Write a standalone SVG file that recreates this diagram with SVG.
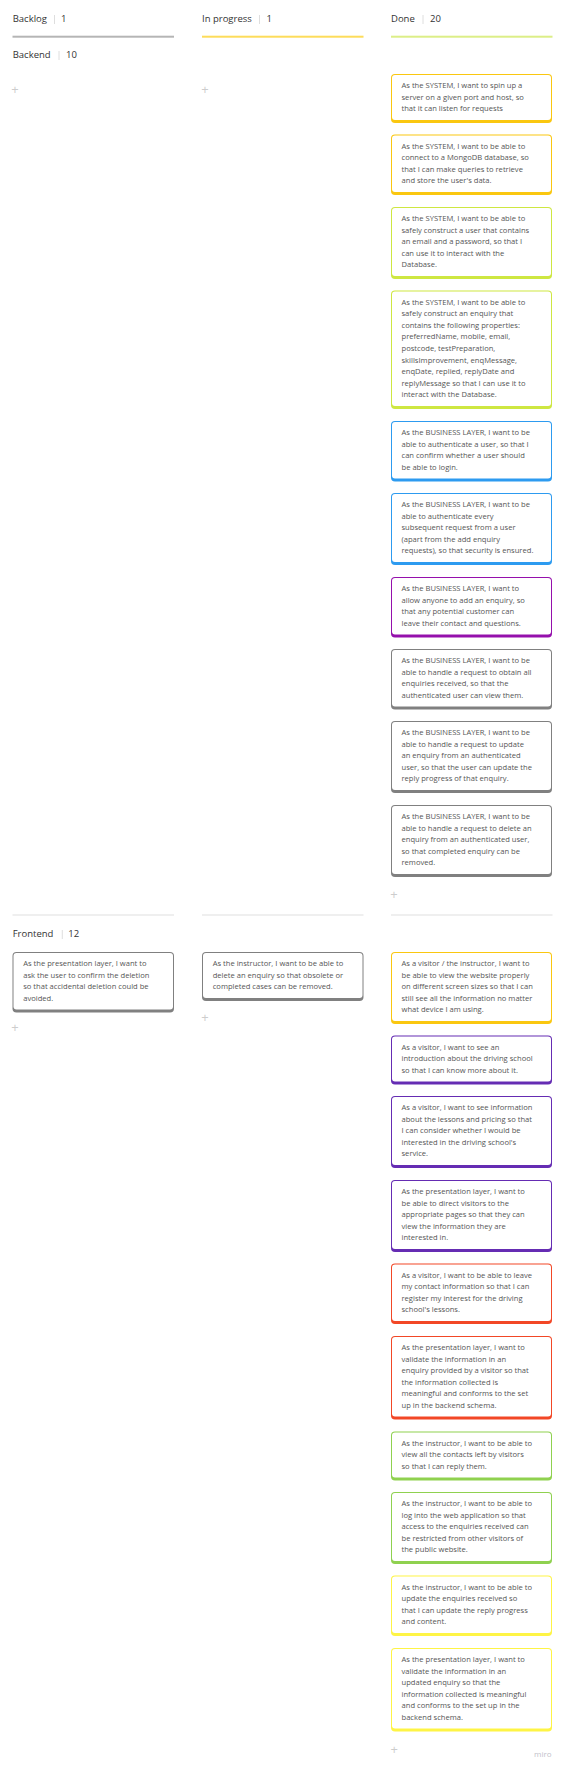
<svg xmlns="http://www.w3.org/2000/svg" width="565" height="1769" viewBox="0 0 565 1769">
<style>
.h{font-family:"Open Sans","DejaVu Sans",sans-serif;font-size:9.5px;fill:#333}
.t{font-family:"Open Sans","DejaVu Sans",sans-serif;font-size:7.6px;fill:#555}
.plus{font-family:"Open Sans","DejaVu Sans",sans-serif;font-size:13px;fill:#cdcdcd;text-anchor:middle}
.bar{stroke:#d6d6d6;stroke-width:0.8}
.inner{fill:#fff}
.miro{font-family:"Open Sans","DejaVu Sans",sans-serif;font-size:8px;fill:#c2bfca;text-anchor:end}
</style>
<rect width="565" height="1769" fill="#fff"/>
<g id="headers">
 <text class="h" x="12.7" y="22.4">Backlog</text><line class="bar" x1="54.5" y1="15" x2="54.5" y2="24"/><text class="h" x="61" y="22.4">1</text>
 <rect x="12.5" y="35.7" width="161.5" height="2" fill="#b5b5b5"/>
 <text class="h" x="202" y="22.4">In progress</text><line class="bar" x1="259.5" y1="15" x2="259.5" y2="24"/><text class="h" x="266.5" y="22.4">1</text>
 <rect x="202" y="35.7" width="161.5" height="2" fill="#fddc5a"/>
 <text class="h" x="391" y="22.4">Done</text><line class="bar" x1="423" y1="15" x2="423" y2="24"/><text class="h" x="430" y="22.4">20</text>
 <rect x="391" y="35.7" width="161.5" height="2" fill="#dcee87"/>
</g>
<g id="swimlanes">
 <text class="h" x="12.7" y="58.4">Backend</text><line class="bar" x1="59" y1="51" x2="59" y2="60"/><text class="h" x="66" y="58.4">10</text>
 <rect x="12.5" y="914" width="161.5" height="2" fill="#efefef"/>
 <rect x="202" y="914" width="161.5" height="2" fill="#efefef"/>
 <rect x="391" y="914" width="161.5" height="2" fill="#efefef"/>
 <text class="h" x="12.7" y="937.4">Frontend</text><line class="bar" x1="62.3" y1="930" x2="62.3" y2="939"/><text class="h" x="68.3" y="937.4">12</text>
</g>
<g id="add-buttons">
 <text class="plus" x="15" y="93.8">+</text>
 <text class="plus" x="205" y="93.8">+</text>
 <text class="plus" x="394" y="898.8">+</text>
 <text class="plus" x="15" y="1032.2">+</text>
 <text class="plus" x="205" y="1021.8">+</text>
 <text class="plus" x="394.3" y="1753.5">+</text>
</g>
<g id="connectors"></g>

<g id="card-b1"><rect x="391" y="74" width="161" height="49" rx="4" fill="#fac710"/><rect class="inner" x="392" y="75" width="159" height="45" rx="3"/>
<text class="t" y="88"><tspan x="401.5">As the SYSTEM, I want to spin up a</tspan><tspan x="401.5" dy="11.6">server on a given port and host, so</tspan><tspan x="401.5" dy="11.6">that it can listen for requests</tspan></text></g>

<g id="card-b2"><rect x="391" y="134.5" width="161" height="60.5" rx="4" fill="#fac710"/><rect class="inner" x="392" y="135.5" width="159" height="56.5" rx="3"/>
<text class="t" y="148.5"><tspan x="401.5">As the SYSTEM, I want to be able to</tspan><tspan x="401.5" dy="11.6">connect to a MongoDB database, so</tspan><tspan x="401.5" dy="11.6">that I can make queries to retrieve</tspan><tspan x="401.5" dy="11.6">and store the user's data.</tspan></text></g>

<g id="card-b3"><rect x="391" y="207" width="161" height="72" rx="4" fill="#cee741"/><rect class="inner" x="392" y="208" width="159" height="68" rx="3"/>
<text class="t" y="221"><tspan x="401.5">As the SYSTEM, I want to be able to</tspan><tspan x="401.5" dy="11.6">safely construct a user that contains</tspan><tspan x="401.5" dy="11.6">an email and a password, so that I</tspan><tspan x="401.5" dy="11.6">can use it to interact with the</tspan><tspan x="401.5" dy="11.6">Database.</tspan></text></g>

<g id="card-b4"><rect x="391" y="290.5" width="161" height="118.5" rx="4" fill="#cee741"/><rect class="inner" x="392" y="291.5" width="159" height="114.5" rx="3"/>
<text class="t" y="304.5"><tspan x="401.5">As the SYSTEM, I want to be able to</tspan><tspan x="401.5" dy="11.6">safely construct an enquiry that</tspan><tspan x="401.5" dy="11.6">contains the following properties:</tspan><tspan x="401.5" dy="11.6">preferredName, mobile, email,</tspan><tspan x="401.5" dy="11.6">postcode, testPreparation,</tspan><tspan x="401.5" dy="11.6">skillsImprovement, enqMessage,</tspan><tspan x="401.5" dy="11.6">enqDate, replied, replyDate and</tspan><tspan x="401.5" dy="11.6">replyMessage so that I can use it to</tspan><tspan x="401.5" dy="11.6">interact with the Database.</tspan></text></g>

<g id="card-b5"><rect x="391" y="421" width="161" height="60.5" rx="4" fill="#2d9bf0"/><rect class="inner" x="392" y="422" width="159" height="56.5" rx="3"/>
<text class="t" y="435"><tspan x="401.5">As the BUSINESS LAYER, I want to be</tspan><tspan x="401.5" dy="11.6">able to authenticate a user, so that I</tspan><tspan x="401.5" dy="11.6">can confirm whether a user should</tspan><tspan x="401.5" dy="11.6">be able to login.</tspan></text></g>

<g id="card-b6"><rect x="391" y="493" width="161" height="72" rx="4" fill="#2d9bf0"/><rect class="inner" x="392" y="494" width="159" height="68" rx="3"/>
<text class="t" y="507"><tspan x="401.5">As the BUSINESS LAYER, I want to be</tspan><tspan x="401.5" dy="11.6">able to authenticate every</tspan><tspan x="401.5" dy="11.6">subsequent request from a user</tspan><tspan x="401.5" dy="11.6">(apart from the add enquiry</tspan><tspan x="401.5" dy="11.6">requests), so that security is ensured.</tspan></text></g>

<g id="card-b7"><rect x="391" y="577" width="161" height="60.5" rx="4" fill="#9510ac"/><rect class="inner" x="392" y="578" width="159" height="56.5" rx="3"/>
<text class="t" y="591"><tspan x="401.5">As the BUSINESS LAYER, I want to</tspan><tspan x="401.5" dy="11.6">allow anyone to add an enquiry, so</tspan><tspan x="401.5" dy="11.6">that any potential customer can</tspan><tspan x="401.5" dy="11.6">leave their contact and questions.</tspan></text></g>

<g id="card-b8"><rect x="391" y="649" width="161" height="60.5" rx="4" fill="#808080"/><rect class="inner" x="392" y="650" width="159" height="56.5" rx="3"/>
<text class="t" y="663"><tspan x="401.5">As the BUSINESS LAYER, I want to be</tspan><tspan x="401.5" dy="11.6">able to handle a request to obtain all</tspan><tspan x="401.5" dy="11.6">enquiries received, so that the</tspan><tspan x="401.5" dy="11.6">authenticated user can view them.</tspan></text></g>

<g id="card-b9"><rect x="391" y="721" width="161" height="72" rx="4" fill="#808080"/><rect class="inner" x="392" y="722" width="159" height="68" rx="3"/>
<text class="t" y="735"><tspan x="401.5">As the BUSINESS LAYER, I want to be</tspan><tspan x="401.5" dy="11.6">able to handle a request to update</tspan><tspan x="401.5" dy="11.6">an enquiry from an authenticated</tspan><tspan x="401.5" dy="11.6">user, so that the user can update the</tspan><tspan x="401.5" dy="11.6">reply progress of that enquiry.</tspan></text></g>

<g id="card-b10"><rect x="391" y="805" width="161" height="72" rx="4" fill="#808080"/><rect class="inner" x="392" y="806" width="159" height="68" rx="3"/>
<text class="t" y="819"><tspan x="401.5">As the BUSINESS LAYER, I want to be</tspan><tspan x="401.5" dy="11.6">able to handle a request to delete an</tspan><tspan x="401.5" dy="11.6">enquiry from an authenticated user,</tspan><tspan x="401.5" dy="11.6">so that completed enquiry can be</tspan><tspan x="401.5" dy="11.6">removed.</tspan></text></g>

<g id="card-fb1"><rect x="12.5" y="952" width="161.5" height="60.5" rx="4" fill="#808080"/><rect class="inner" x="13.5" y="953" width="159.5" height="56.5" rx="3"/>
<text class="t" y="966"><tspan x="23.2">As the presentation layer, I want to</tspan><tspan x="23.2" dy="11.6">ask the user to confirm the deletion</tspan><tspan x="23.2" dy="11.6">so that accidental deletion could be</tspan><tspan x="23.2" dy="11.6">avoided.</tspan></text></g>

<g id="card-fp1"><rect x="202" y="952" width="161.5" height="49" rx="4" fill="#808080"/><rect class="inner" x="203" y="953" width="159.5" height="45" rx="3"/>
<text class="t" y="966"><tspan x="212.7">As the instructor, I want to be able to</tspan><tspan x="212.7" dy="11.6">delete an enquiry so that obsolete or</tspan><tspan x="212.7" dy="11.6">completed cases can be removed.</tspan></text></g>

<g id="card-f1"><rect x="391" y="952" width="161" height="72" rx="4" fill="#fac710"/><rect class="inner" x="392" y="953" width="159" height="68" rx="3"/>
<text class="t" y="966"><tspan x="401.5">As a visitor / the instructor, I want to</tspan><tspan x="401.5" dy="11.6">be able to view the website properly</tspan><tspan x="401.5" dy="11.6">on different screen sizes so that I can</tspan><tspan x="401.5" dy="11.6">still see all the information no matter</tspan><tspan x="401.5" dy="11.6">what device I am using.</tspan></text></g>

<g id="card-f2"><rect x="391" y="1035.5" width="161" height="49" rx="4" fill="#652cb3"/><rect class="inner" x="392" y="1036.5" width="159" height="45" rx="3"/>
<text class="t" y="1049.5"><tspan x="401.5">As a visitor, I want to see an</tspan><tspan x="401.5" dy="11.6">introduction about the driving school</tspan><tspan x="401.5" dy="11.6">so that I can know more about it.</tspan></text></g>

<g id="card-f3"><rect x="391" y="1096" width="161" height="72" rx="4" fill="#652cb3"/><rect class="inner" x="392" y="1097" width="159" height="68" rx="3"/>
<text class="t" y="1110"><tspan x="401.5">As a visitor, I want to see information</tspan><tspan x="401.5" dy="11.6">about the lessons and pricing so that</tspan><tspan x="401.5" dy="11.6">I can consider whether I would be</tspan><tspan x="401.5" dy="11.6">interested in the driving school's</tspan><tspan x="401.5" dy="11.6">service.</tspan></text></g>

<g id="card-f4"><rect x="391" y="1180" width="161" height="72" rx="4" fill="#652cb3"/><rect class="inner" x="392" y="1181" width="159" height="68" rx="3"/>
<text class="t" y="1194"><tspan x="401.5">As the presentation layer, I want to</tspan><tspan x="401.5" dy="11.6">be able to direct visitors to the</tspan><tspan x="401.5" dy="11.6">appropriate pages so that they can</tspan><tspan x="401.5" dy="11.6">view the information they are</tspan><tspan x="401.5" dy="11.6">interested in.</tspan></text></g>

<g id="card-f5"><rect x="391" y="1263.5" width="161" height="60.5" rx="4" fill="#f24726"/><rect class="inner" x="392" y="1264.5" width="159" height="56.5" rx="3"/>
<text class="t" y="1277.5"><tspan x="401.5">As a visitor, I want to be able to leave</tspan><tspan x="401.5" dy="11.6">my contact information so that I can</tspan><tspan x="401.5" dy="11.6">register my interest for the driving</tspan><tspan x="401.5" dy="11.6">school's lessons.</tspan></text></g>

<g id="card-f6"><rect x="391" y="1336" width="161" height="83.5" rx="4" fill="#f24726"/><rect class="inner" x="392" y="1337" width="159" height="79.5" rx="3"/>
<text class="t" y="1350"><tspan x="401.5">As the presentation layer, I want to</tspan><tspan x="401.5" dy="11.6">validate the information in an</tspan><tspan x="401.5" dy="11.6">enquiry provided by a visitor so that</tspan><tspan x="401.5" dy="11.6">the information collected is</tspan><tspan x="401.5" dy="11.6">meaningful and conforms to the set</tspan><tspan x="401.5" dy="11.6">up in the backend schema.</tspan></text></g>

<g id="card-f7"><rect x="391" y="1431.5" width="161" height="49" rx="4" fill="#8fd14f"/><rect class="inner" x="392" y="1432.5" width="159" height="45" rx="3"/>
<text class="t" y="1445.5"><tspan x="401.5">As the instructor, I want to be able to</tspan><tspan x="401.5" dy="11.6">view all the contacts left by visitors</tspan><tspan x="401.5" dy="11.6">so that I can reply them.</tspan></text></g>

<g id="card-f8"><rect x="391" y="1492" width="161" height="72" rx="4" fill="#8fd14f"/><rect class="inner" x="392" y="1493" width="159" height="68" rx="3"/>
<text class="t" y="1506"><tspan x="401.5">As the instructor, I want to be able to</tspan><tspan x="401.5" dy="11.6">log into the web application so that</tspan><tspan x="401.5" dy="11.6">access to the enquiries received can</tspan><tspan x="401.5" dy="11.6">be restricted from other visitors of</tspan><tspan x="401.5" dy="11.6">the public website.</tspan></text></g>

<g id="card-f9"><rect x="391" y="1575.5" width="161" height="60.5" rx="4" fill="#fef445"/><rect class="inner" x="392" y="1576.5" width="159" height="56.5" rx="3"/>
<text class="t" y="1589.5"><tspan x="401.5">As the instructor, I want to be able to</tspan><tspan x="401.5" dy="11.6">update the enquiries received so</tspan><tspan x="401.5" dy="11.6">that I can update the reply progress</tspan><tspan x="401.5" dy="11.6">and content.</tspan></text></g>

<g id="card-f10"><rect x="391" y="1648" width="161" height="83.5" rx="4" fill="#fef445"/><rect class="inner" x="392" y="1649" width="159" height="79.5" rx="3"/>
<text class="t" y="1662"><tspan x="401.5">As the presentation layer, I want to</tspan><tspan x="401.5" dy="11.6">validate the information in an</tspan><tspan x="401.5" dy="11.6">updated enquiry so that the</tspan><tspan x="401.5" dy="11.6">information collected is meaningful</tspan><tspan x="401.5" dy="11.6">and conforms to the set up in the</tspan><tspan x="401.5" dy="11.6">backend schema.</tspan></text></g>

<text class="miro" x="551.5" y="1756.5">miro</text>
</svg>
